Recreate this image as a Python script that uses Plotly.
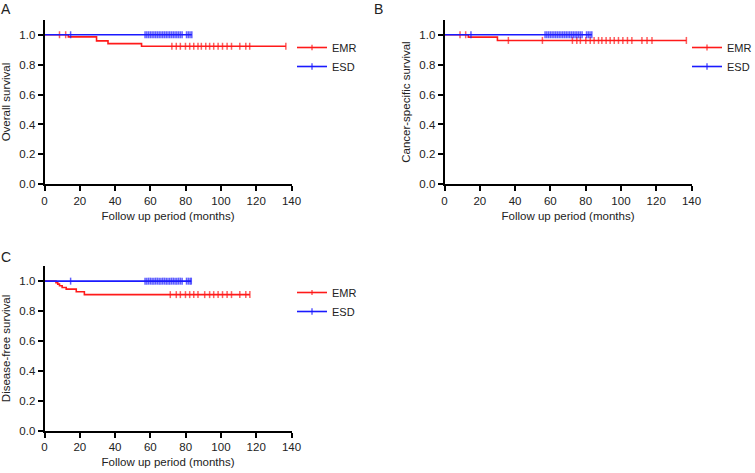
import plotly.graph_objects as go

# ---------------- data ----------------
x_ticks = [0, 20, 40, 60, 80, 100, 120, 140]
y_ticks = [0.0, 0.2, 0.4, 0.6, 0.8, 1.0]
y_tick_labels = ["0.0", "0.2", "0.4", "0.6", "0.8", "1.0"]
groups = ["EMR", "ESD"]
panel_letters = ["A", "B", "C"]
y_titles = ["Overall survival", "Cancer-specific survival", "Disease-free survival"]
x_title = "Follow up period (months)"

# Panel A - overall survival
a_emr_step_t = [0, 13.5, 29.5, 36, 55]
a_emr_step_s = [1.0, 0.986, 0.959, 0.941, 0.923]
a_emr_censor = [8.5, 12, 72.2, 74.7, 77, 79.9, 82.3, 84.6, 87, 88.9, 91.4, 93.6,
                95.9, 98.4, 100.9, 103.5, 106, 110.7, 114.1, 116.3, 136.8]
a_esd_step_t = [0]
a_esd_step_s = [1.0]
a_esd_censor = [14.8, 57, 58, 59, 60, 61, 62, 63, 64, 65, 66, 67, 68, 69, 70, 71,
                72, 73, 74, 75, 76, 77, 78, 80.5, 81.5, 82.5, 83.5]

# Panel B - cancer-specific survival
b_emr_step_t = [0, 13.5, 30]
b_emr_step_s = [1.0, 0.984, 0.962]
b_emr_censor = [8.8, 12, 36.2, 55.5, 72.5, 75, 77, 80.1, 82.6, 84.8, 87.3, 89.2,
                91.6, 93.9, 96.2, 98.6, 101.1, 103.7, 106.2, 111.9, 114.8, 117.6, 137.1]
b_esd_step_t = [0]
b_esd_step_s = [1.0]
b_esd_censor = [15, 57, 58, 59, 60, 61, 62, 63, 64, 65, 66, 67, 68, 69, 70, 71,
                72, 73, 74, 75, 76, 77, 78, 80.5, 81.5, 82.5, 83.5]

# Panel C - disease-free survival
c_emr_step_t = [0, 6.5, 7.5, 8.5, 10, 12.3, 18, 22.6]
c_emr_step_s = [1.0, 0.99, 0.98, 0.969, 0.958, 0.947, 0.929, 0.91]
c_emr_censor = [71.3, 74.7, 77, 79.9, 82.3, 84.6, 87, 90.8, 93.6, 95.9, 98.4,
                100.9, 103.5, 106, 110.7, 114.1, 116.4]
c_esd_step_t = [0]
c_esd_step_s = [1.0]
c_esd_censor = [14.8, 57, 58, 59, 60, 61, 62, 63, 64, 65, 66, 67, 68, 69, 70, 71,
                72, 73, 74, 75, 76, 77, 78, 80.5, 81.5, 82.5, 83.2]

panels = [
    [(a_emr_step_t, a_emr_step_s, a_emr_censor), (a_esd_step_t, a_esd_step_s, a_esd_censor)],
    [(b_emr_step_t, b_emr_step_s, b_emr_censor), (b_esd_step_t, b_esd_step_s, b_esd_censor)],
    [(c_emr_step_t, c_emr_step_s, c_emr_censor), (c_esd_step_t, c_esd_step_s, c_esd_censor)],
]

# ---------------- style / layout ----------------
W, H = 755, 473
colors = {"EMR": "#ff1a1a", "ESD": "#1a1aff"}
FONT = "Liberation Sans, Arial, Helvetica, sans-serif"
TXT = "#222222"

def px_x(p):
    return p / W

def px_y(p):
    return 1 - p / H

# pixel frames: (x_left, x_right, y_bottom, y_top) for each panel
frames = [
    (44.5, 291.5, 184.3, 19.8),
    (444.5, 691.5, 184.3, 19.8),
    (44.5, 291.5, 430.7, 266.2),
]
letter_pos = [(6, 9), (378, 9), (6, 257)]
legend_pos = [(292, 33), (687, 33), (292, 278)]


def km_points(step_t, step_s, censor):
    times = sorted(set(step_t) | set(censor))
    xs, ys, sizes = [], [], []
    for t in times:
        lvl = step_s[0]
        for st, ss in zip(step_t, step_s):
            if st <= t:
                lvl = ss
        xs.append(t)
        ys.append(lvl)
        sizes.append(5 if t in censor else 0)
    return xs, ys, sizes


fig = go.Figure()
layout = dict(
    width=W, height=H,
    margin=dict(l=0, r=0, t=0, b=0, autoexpand=False),
    paper_bgcolor="white", plot_bgcolor="white",
    font=dict(family=FONT, size=11, color=TXT),
    showlegend=True,
    annotations=[],
)

for i, panel in enumerate(panels):
    xa = "x" if i == 0 else f"x{i+1}"
    ya = "y" if i == 0 else f"y{i+1}"
    lg = "legend" if i == 0 else f"legend{i+1}"
    for g, (st, ss, cs) in zip(groups, panel):
        xs, ys, sizes = km_points(st, ss, cs)
        fig.add_trace(go.Scatter(
            x=xs, y=ys, name=g, mode="lines+markers",
            line=dict(color=colors[g], width=1.6, shape="hv"),
            marker=dict(symbol="line-ns", size=sizes, color=colors[g],
                        line=dict(color=colors[g], width=1.5)),
            xaxis=xa, yaxis=ya, legend=lg, hoverinfo="skip",
        ))
    xl, xr, yb, yt = frames[i]
    axis_common = dict(
        showline=True, linecolor="black", linewidth=1.8,
        ticks="outside", ticklen=5, tickwidth=1.5, tickcolor="black",
        showgrid=False, zeroline=False, automargin=False,
        tickfont=dict(family=FONT, size=11.5, color=TXT),
    )
    layout["xaxis" if i == 0 else f"xaxis{i+1}"] = dict(
        axis_common, domain=[px_x(xl), px_x(xr)], range=[0, 140],
        tickvals=x_ticks, anchor=ya,
        title=dict(text=x_title, font=dict(family=FONT, size=11.5, color=TXT), standoff=6),
    )
    layout["yaxis" if i == 0 else f"yaxis{i+1}"] = dict(
        axis_common, domain=[px_y(yb), px_y(yt)], range=[0, 1.1],
        tickvals=y_ticks, ticktext=y_tick_labels, anchor=xa,
        title=dict(text=y_titles[i], font=dict(family=FONT, size=11.5, color=TXT), standoff=6),
    )
    lx, ly = legend_pos[i]
    layout[lg] = dict(
        x=px_x(lx), y=px_y(ly), xanchor="left", yanchor="top",
        bgcolor="rgba(0,0,0,0)", font=dict(family=FONT, size=11, color=TXT),
        tracegroupgap=0, itemclick=False,
    )
    ax, ay = letter_pos[i]
    layout["annotations"].append(dict(
        text=panel_letters[i], x=px_x(ax), y=px_y(ay), xref="paper", yref="paper",
        showarrow=False, xanchor="center", yanchor="middle",
        font=dict(family=FONT, size=14, color=TXT),
    ))

fig.update_layout(**layout)
fig.write_html(
    "out.html",
    config={"displayModeBar": False},
    post_script="document.body.style.margin='0';document.body.style.overflow='hidden';",
)
